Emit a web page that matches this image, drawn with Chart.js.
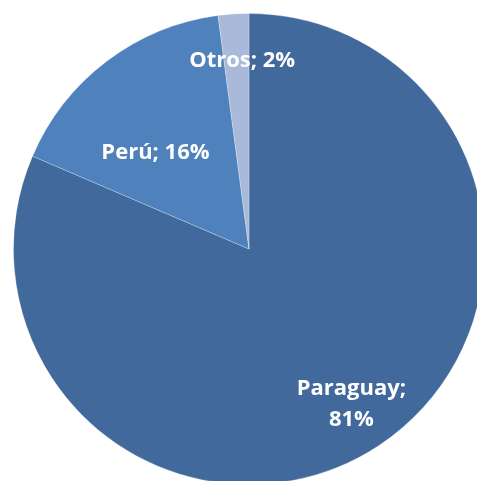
<!DOCTYPE html>
<html>
<head>
<meta charset="utf-8">
<script src="https://cdn.jsdelivr.net/npm/chart.js@4/dist/chart.umd.min.js"></script>
<style>
  html, body { margin: 0; padding: 0; background: #ffffff; }
  body { width: 477px; height: 481px; overflow: hidden; position: relative; }
  #wrap { position: absolute; left: 0; top: 0; width: 498px; height: 498px; }
</style>
</head>
<body>
<div id="wrap"><canvas id="pieChart"></canvas></div>
<script>
// === DATOS ===
const categories = ["Paraguay", "Perú", "Otros"];
const shares = [81.45, 16.45, 2.1];
const sliceColors = ["#41699B", "#4F81BD", "#A9B9D9"];

// Ajuste de etiquetas por sector (fracción del radio, giro en grados)
const labelPlacement = [
    { r: 0.79, turn: 0, lines: 2 },
    { r: 0.57, turn: -7, lines: 1 },
    { r: 0.80, turn: 1.7, lines: 1 }
];

// Plugin sencillo para las etiquetas dentro de la torta
const pieLabels = {
    id: 'pieLabels',
    afterDatasetsDraw(chart) {
        const ctx = chart.ctx;
        const meta = chart.getDatasetMeta(0);
        const values = chart.data.datasets[0].data;
        const total = values.reduce((a, b) => a + b, 0);

        ctx.save();
        ctx.fillStyle = '#ffffff';
        ctx.font = 'bold 22px "Open Sans", Lato, sans-serif';
        ctx.textAlign = 'center';
        ctx.textBaseline = 'middle';

        meta.data.forEach((arc, i) => {
            const p = labelPlacement[i];
            const mid = (arc.startAngle + arc.endAngle) / 2 + p.turn * Math.PI / 180;
            const x = arc.x + Math.cos(mid) * arc.outerRadius * p.r;
            const y = arc.y + Math.sin(mid) * arc.outerRadius * p.r;
            const pct = Math.round(values[i] / total * 100) + '%';
            const name = chart.data.labels[i] + ';';
            if (p.lines === 2) {
                ctx.fillText(name, x, y - 15.5);
                ctx.fillText(pct, x, y + 15.5);
            } else {
                ctx.fillText(name + ' ' + pct, x, y);
            }
        });
        ctx.restore();
    }
};

new Chart(document.getElementById('pieChart'), {
    type: 'pie',
    data: {
        labels: categories,
        datasets: [{
            data: shares,
            backgroundColor: sliceColors,
            borderWidth: 1,
            borderColor: 'rgba(255,255,255,0.25)'
        }]
    },
    options: {
        responsive: true,
        maintainAspectRatio: false,
        animation: false,
        layout: { padding: 13 },
        plugins: {
            legend: { display: false },
            tooltip: { enabled: false }
        }
    },
    plugins: [pieLabels]
});
</script>
</body>
</html>
